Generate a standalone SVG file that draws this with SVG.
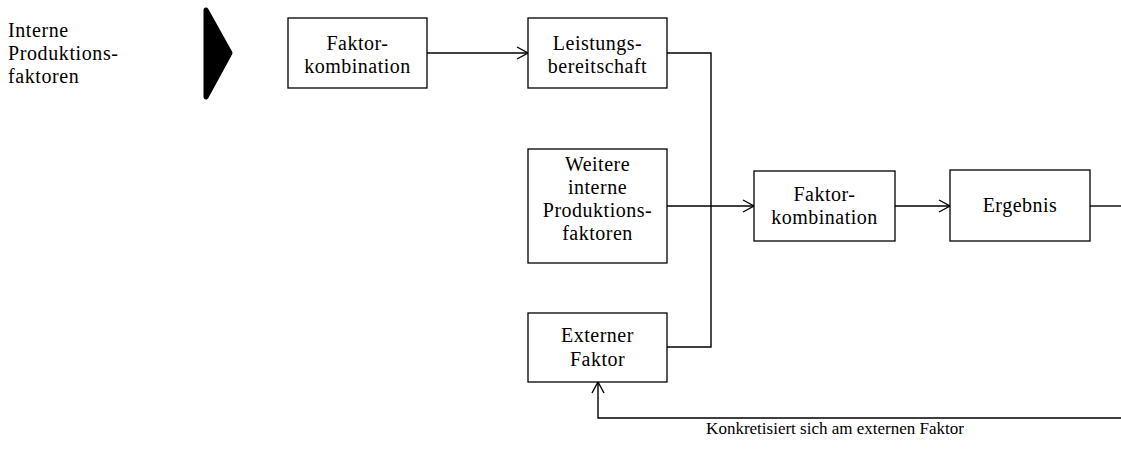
<svg xmlns="http://www.w3.org/2000/svg" width="1121" height="457" viewBox="0 0 1121 457">
  <style>
    .box { fill: #ffffff; stroke: #000000; stroke-width: 1.3; }
    text { font-family: "Liberation Serif", "Times New Roman", Times, serif; fill: #000000; }
    .lbl { font-size: 20px; letter-spacing: 0.5px; text-anchor: middle; }
    .side { font-size: 20px; letter-spacing: 0.6px; }
    .note { font-size: 17px; text-anchor: middle; }
    .wire { fill: none; stroke: #000000; stroke-width: 1.4; }
  </style>
  <defs>
    <marker id="open" markerWidth="14" markerHeight="14" refX="12" refY="7" orient="auto" markerUnits="userSpaceOnUse">
      <path d="M1,1 L12,7 L1,13" fill="none" stroke="#000000" stroke-width="1.4"/>
    </marker>
  </defs>
  <rect width="1121" height="457" fill="#ffffff"/>

  <g id="input-label">
    <text class="side" x="8" y="37">Interne</text>
    <text class="side" x="8" y="60">Produktions-</text>
    <text class="side" x="8" y="83">faktoren</text>
  </g>

  <g id="input-arrow">
    <polygon points="206,10 230,53 206,97" fill="#000000" stroke="#000000" stroke-width="5" stroke-linejoin="round"/>
  </g>

  <g id="connectors">
    <line class="wire" x1="427" y1="53" x2="528" y2="53" marker-end="url(#open)"/>
    <polyline class="wire" points="667,53 711,53 711,347 667,347"/>
    <line class="wire" x1="667" y1="206" x2="754" y2="206" marker-end="url(#open)"/>
    <line class="wire" x1="895" y1="206" x2="950" y2="206" marker-end="url(#open)"/>
    <line class="wire" x1="1090" y1="206" x2="1121" y2="206"/>
    <polyline class="wire" points="1121,418 598,418 598,382" marker-end="url(#open)"/>
  </g>

  <g id="faktorkombination-1">
    <rect class="box" x="288" y="18" width="139" height="70"/>
    <text class="lbl" x="357.5" y="50">Faktor-</text>
    <text class="lbl" x="357.5" y="73">kombination</text>
  </g>

  <g id="leistungsbereitschaft">
    <rect class="box" x="528" y="18" width="139" height="70"/>
    <text class="lbl" x="597.5" y="50">Leistungs-</text>
    <text class="lbl" x="597.5" y="73">bereitschaft</text>
  </g>

  <g id="weitere-faktoren">
    <rect class="box" x="528" y="149" width="139" height="114"/>
    <text class="lbl" x="597.5" y="171">Weitere</text>
    <text class="lbl" x="597.5" y="194">interne</text>
    <text class="lbl" x="597.5" y="217">Produktions-</text>
    <text class="lbl" x="597.5" y="240">faktoren</text>
  </g>

  <g id="externer-faktor">
    <rect class="box" x="528" y="313" width="139" height="69"/>
    <text class="lbl" x="597.5" y="342">Externer</text>
    <text class="lbl" x="597.5" y="366">Faktor</text>
  </g>

  <g id="faktorkombination-2">
    <rect class="box" x="754" y="171" width="141" height="70"/>
    <text class="lbl" x="824.5" y="201">Faktor-</text>
    <text class="lbl" x="824.5" y="224">kombination</text>
  </g>

  <g id="ergebnis">
    <rect class="box" x="950" y="170" width="140" height="71"/>
    <text class="lbl" x="1020" y="212">Ergebnis</text>
  </g>

  <g id="feedback-label">
    <text class="note" x="835" y="434">Konkretisiert sich am externen Faktor</text>
  </g>
</svg>
